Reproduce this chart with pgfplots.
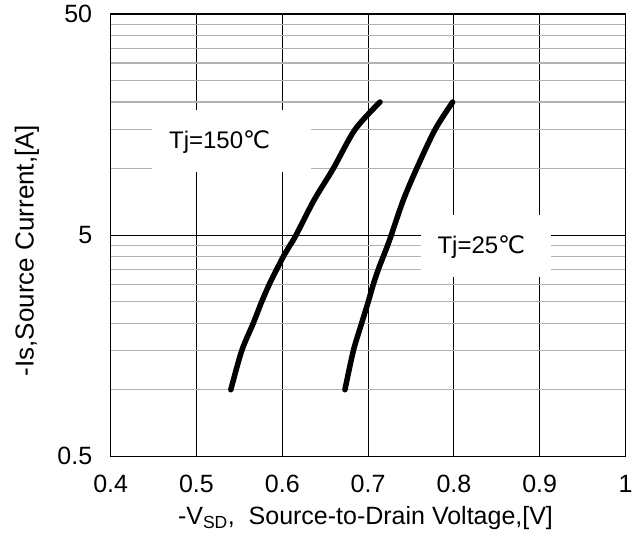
\documentclass[border=0pt]{standalone}
\usepackage{fontspec}
\setmainfont{Liberation Sans}
\newfontfamily\dejavu{DejaVu Sans}
\usepackage{pgfplots}
\pgfplotsset{compat=1.18}
\begin{document}
\begin{tikzpicture}
\begin{axis}[
  name=ax,
  scale only axis,
  width=515bp, height=442.5bp,
  xmin=0.4, xmax=1.0,
  ymode=log, ymin=0.5, ymax=50,
  xtick={0.4,0.5,0.6,0.7,0.8,0.9,1.0},
  xticklabels={0.4,0.5,0.6,0.7,0.8,0.9,1},
  ytick={0.5,5,50},
  yticklabels={0.5,5,50},
  minor ytick={1,1.5,2,2.5,3,3.5,4,4.5,10,15,20,25,30,35,40,45},
  major tick length=0pt, minor tick length=0pt,
  xmajorgrids, ymajorgrids, yminorgrids,
  major grid style={black, line width=0.8bp},
  minor grid style={black!30, line width=1.2bp},
  axis line style={black, line width=1.5bp},
  /pgf/number format/assume math mode=true,
  ticklabel style={font=\fontsize{25bp}{30bp}\selectfont},
  xticklabel style={yshift=-15bp},
  yticklabel style={xshift=-15bp},
  xlabel={-V\textsubscript{SD},\ \ Source-to-Drain Voltage,[V]},
  xlabel style={font=\fontsize{25bp}{30bp}\selectfont, at={(axis description cs:0.495,-0.1548)}, anchor=base},
  ylabel={-Is,Source Current,[A]},
  ylabel style={font=\fontsize{26bp}{30bp}\selectfont, at={(axis description cs:-0.1625,0.4655)}, anchor=center, rotate=0},
]
\addplot[black, line width=5.5bp, line cap=round, line join=round, smooth, tension=0.5] coordinates {
 (0.540,1.0) (0.5527,1.5) (0.5662,2.0) (0.576,2.5) (0.5849,3.0) (0.5935,3.5)
 (0.6012,4.0) (0.609,4.5) (0.616,5.0) (0.637,7.2) (0.6594,10) (0.6847,15) (0.7139,20)
};
\addplot[black, line width=5.5bp, line cap=round, line join=round, smooth, tension=0.5] coordinates {
 (0.673,1.0) (0.6828,1.5) (0.6925,2.0) (0.7002,2.5) (0.7061,3.0) (0.7119,3.5)
 (0.7177,4.0) (0.7228,4.5) (0.7270,5.0) (0.741,7.2) (0.7566,10) (0.778,15) (0.7986,20)
};
\node[fill=white, minimum width=159bp, minimum height=62bp, inner sep=0pt] at (axis cs:0.541,13.3) {};
\node[fill=white, minimum width=130bp, minimum height=62bp, inner sep=0pt] at (axis cs:0.837,4.46) {};
\node[font=\fontsize{24bp}{28bp}\selectfont] at (axis cs:0.527,13.18) {Tj=150{\dejavu ℃}};
\node[font=\fontsize{24bp}{28bp}\selectfont] at (axis cs:0.832,4.43) {Tj=25{\dejavu ℃}};
\end{axis}
\pgfresetboundingbox
\path (ax.south west) ++(-110.7bp,-84.5bp) coordinate (bl);
\path (ax.north east) ++(11.5bp,14bp) coordinate (tr);
\path[use as bounding box] (bl) rectangle (tr);
\end{tikzpicture}
\end{document}
